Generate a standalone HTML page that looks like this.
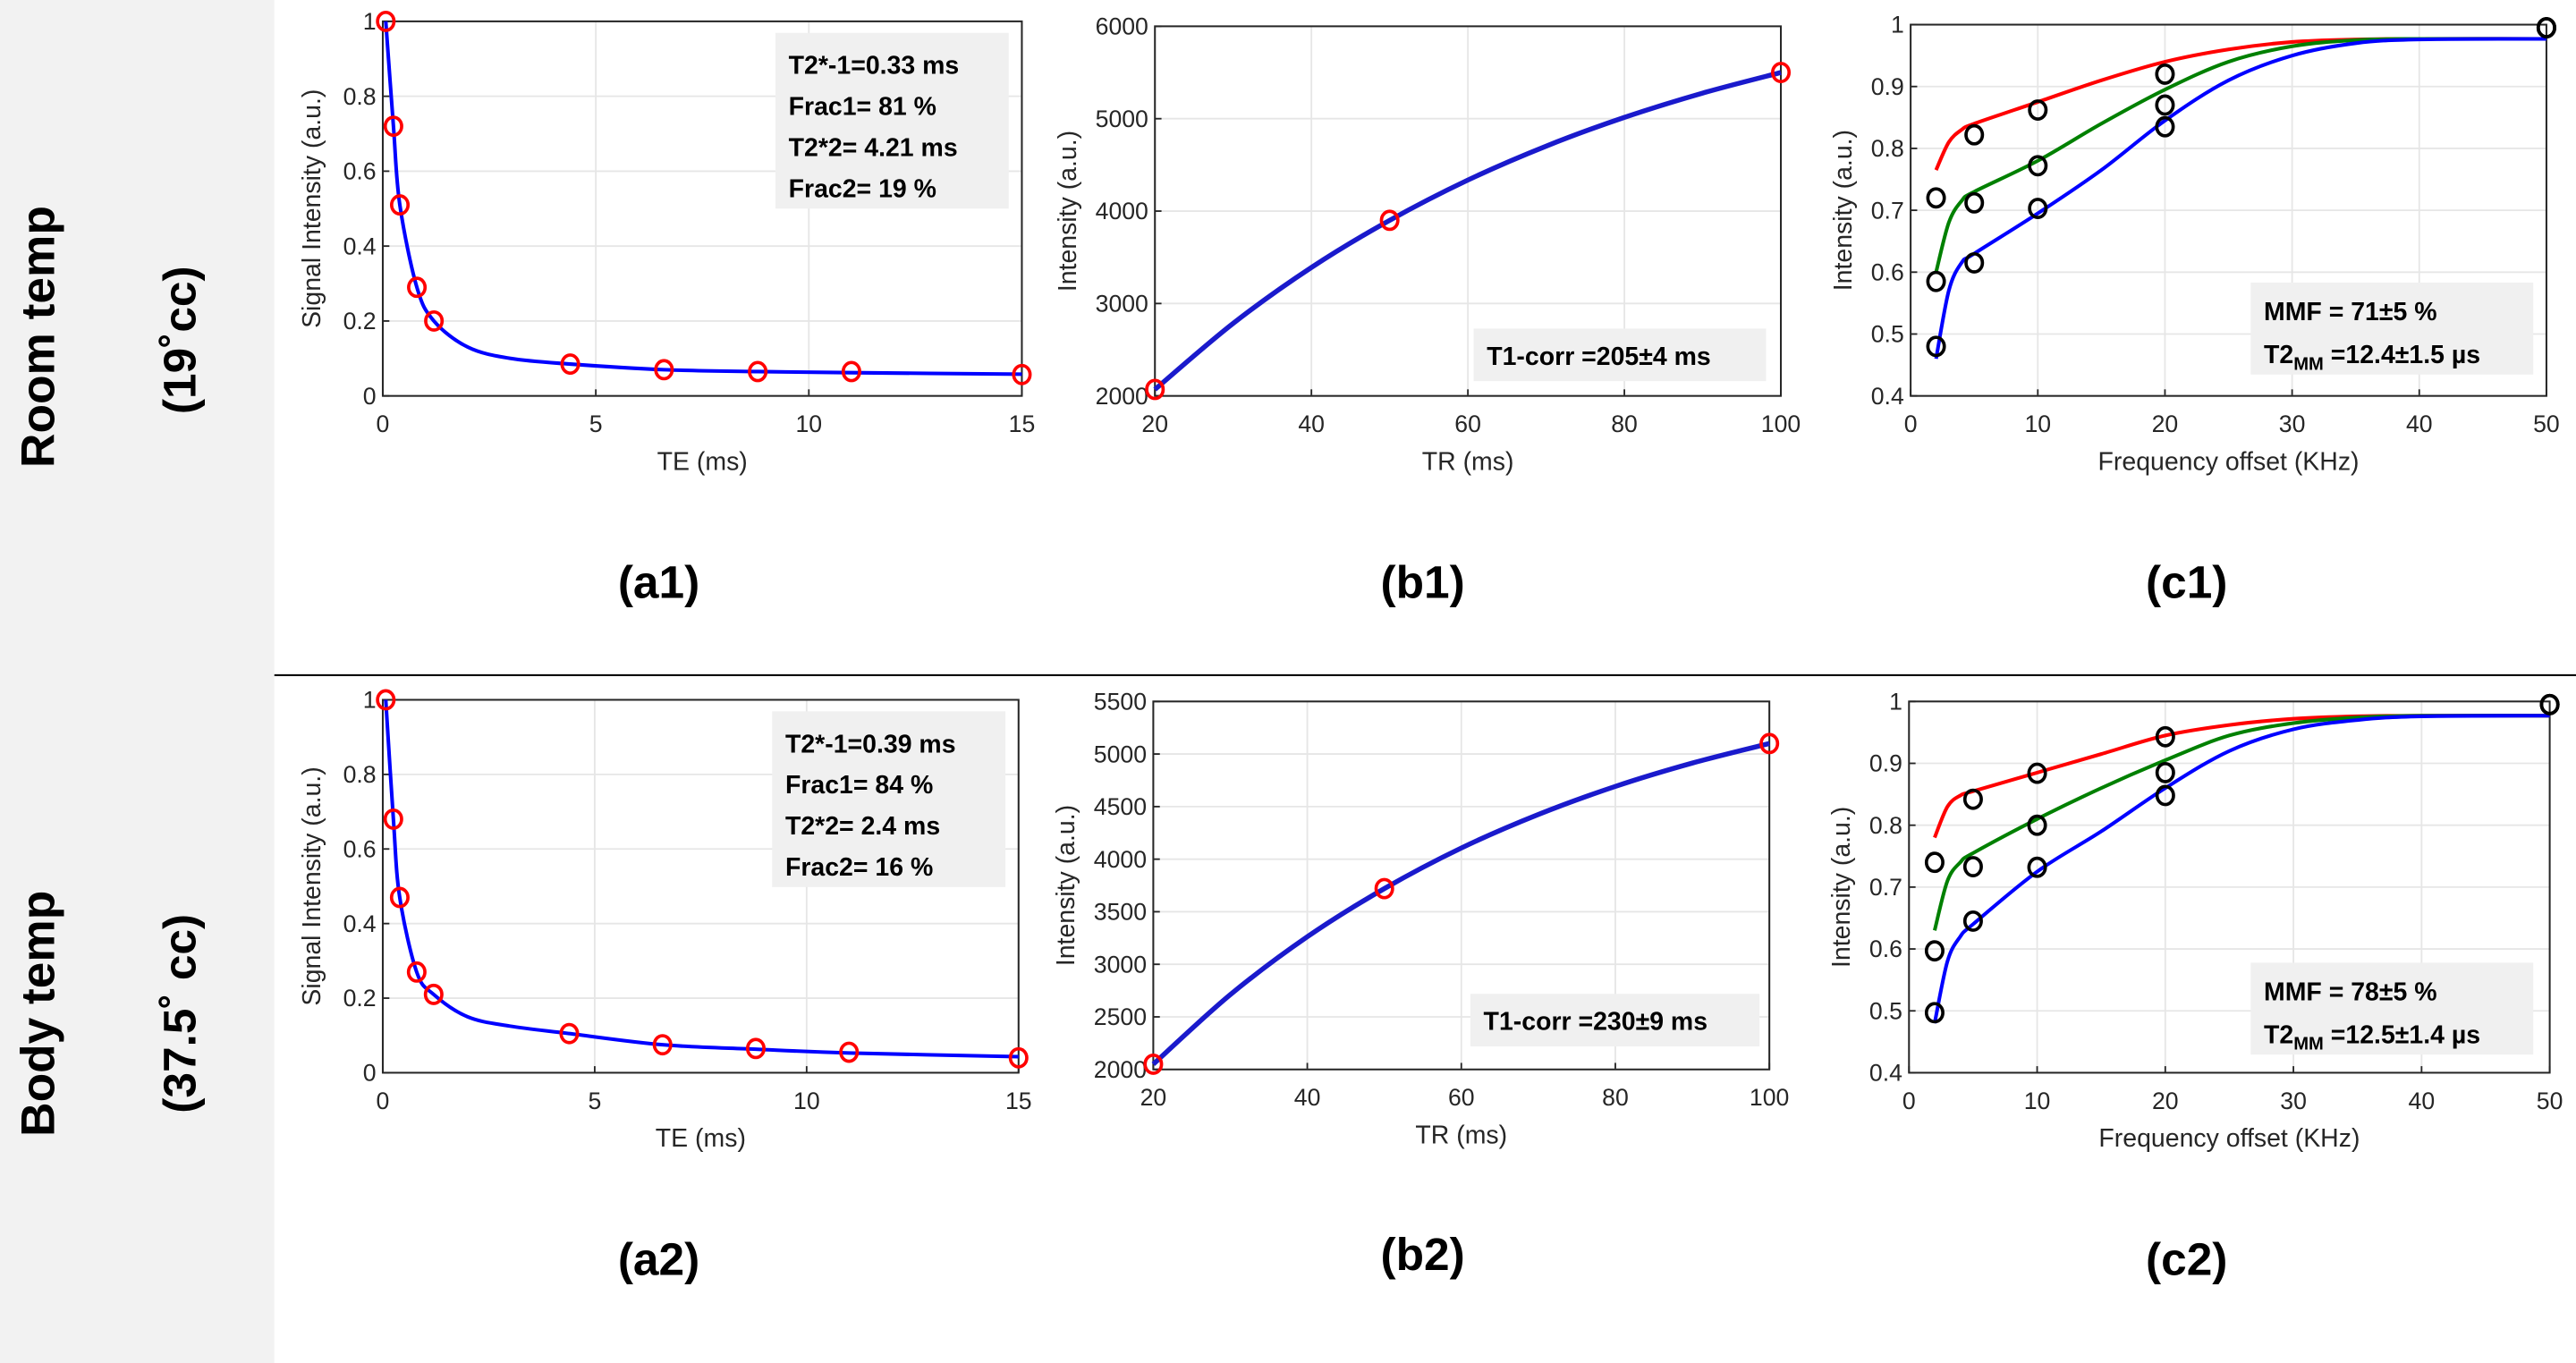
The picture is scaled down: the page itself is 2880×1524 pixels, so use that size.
<!DOCTYPE html>
<html><head><meta charset="utf-8">
<style>
html,body{margin:0;padding:0;background:#fff;}
svg{display:block;font-family:"Liberation Sans",Arial,sans-serif;}
</style></head>
<body>
<svg id="fig" width="2880" height="1524" viewBox="0 0 1568 829.7" preserveAspectRatio="none" xmlns="http://www.w3.org/2000/svg">
<rect x="0" y="0" width="167" height="830" fill="#f2f2f2"/>
<text transform="translate(33,205) rotate(-90)" text-anchor="middle" font-size="29" font-weight="bold">Room temp</text>
<text transform="translate(119,207) rotate(-90)" text-anchor="middle" font-size="28" font-weight="bold">(19˚cc)</text>
<text transform="translate(33,617) rotate(-90)" text-anchor="middle" font-size="29" font-weight="bold">Body temp</text>
<text transform="translate(119,617) rotate(-90)" text-anchor="middle" font-size="28" font-weight="bold">(37.5˚ cc)</text>
<line x1="167" y1="411" x2="1568" y2="411" stroke="#000" stroke-width="1.2"/>
</svg>
<script>
// ---- data arrays ----
const a1TE = [0.07,0.25,0.4,0.8,1.2,4.4,6.6,8.8,11,15];
const a1Sig = [1,0.72,0.51,0.29,0.2,0.085,0.07,0.065,0.065,0.057];
const a1FitX = [0.07,0.25,0.4,0.8,1.2,2,3,4.4,6.6,8.8,11,15];
const a1FitY = [1,0.72,0.51,0.29,0.2,0.13,0.1,0.085,0.07,0.065,0.062,0.058];
const a2Sig = [1,0.68,0.47,0.27,0.21,0.105,0.075,0.065,0.055,0.04];
const a2FitY = [1,0.68,0.47,0.27,0.21,0.15,0.125,0.105,0.075,0.063,0.053,0.043];
const bTR = [20,50,100];
const b1Int = [2070,3900,5500];
const b2Int = [2050,3720,5100];
const bFitX = [20,30,40,50,60,70,80,90,100];
const b1FitY = [2070,2785,3390,3900,4336,4703,5014,5277,5500];
const b2FitY = [2050,2711,3262,3720,4106,4425,4692,4914,5100];
const cFreq = [2,5,10,20,50];
const c1Red = [0.72,0.822,0.862,0.92,0.995];
const c1Green = [0.585,0.712,0.772,0.87,0.995];
const c1Blue = [0.48,0.615,0.703,0.835,0.995];
const c2Red = [0.74,0.842,0.884,0.943,0.995];
const c2Green = [0.597,0.733,0.8,0.885,0.995];
const c2Blue = [0.497,0.645,0.732,0.848,0.995];
const cFitX = [2,3,4,5,10,15,20,25,30,35,40,50];
const c1FitRed = [0.765,0.81,0.83,0.84,0.875,0.91,0.94,0.96,0.972,0.976,0.977,0.977];
const c1FitGreen = [0.6,0.68,0.715,0.73,0.78,0.84,0.895,0.94,0.965,0.975,0.977,0.977];
const c1FitBlue = [0.46,0.57,0.615,0.63,0.695,0.765,0.845,0.91,0.95,0.97,0.976,0.977];
const c2FitRed = [0.78,0.83,0.848,0.855,0.885,0.915,0.945,0.962,0.972,0.976,0.977,0.977];
const c2FitGreen = [0.63,0.71,0.74,0.755,0.81,0.86,0.905,0.945,0.965,0.974,0.977,0.977];
const c2FitBlue = [0.48,0.58,0.62,0.64,0.725,0.79,0.86,0.92,0.955,0.97,0.976,0.977];
const aXTicks = [0,5,10,15];
const aYTicks = [0,0.2,0.4,0.6,0.8,1];
const aYTickLabels = ["0","0.2","0.4","0.6","0.8","1"];
const bXTicks = [20,40,60,80,100];
const b1YTicks = [2000,3000,4000,5000,6000];
const b2YTicks = [2000,2500,3000,3500,4000,4500,5000,5500];
const cXTicks = [0,10,20,30,40,50];
const cYTicks = [0.4,0.5,0.6,0.7,0.8,0.9,1];
const cYTickLabels = ["0.4","0.5","0.6","0.7","0.8","0.9","1"];

const NS = "http://www.w3.org/2000/svg";
const svg = document.getElementById('fig');
function mk(tag, attrs, parent){
  const e = document.createElementNS(NS, tag);
  for (const k in attrs) e.setAttribute(k, attrs[k]);
  (parent||svg).appendChild(e);
  return e;
}
function smoothPath(pts){
  let d = "M" + pts[0][0] + "," + pts[0][1];
  for (let i=0;i<pts.length-1;i++){
    const p0 = pts[Math.max(0,i-1)], p1 = pts[i], p2 = pts[i+1], p3 = pts[Math.min(pts.length-1,i+2)];
    const c1x = p1[0]+(p2[0]-p0[0])/6, c1y = p1[1]+(p2[1]-p0[1])/6;
    const c2x = p2[0]-(p3[0]-p1[0])/6, c2y = p2[1]-(p3[1]-p1[1])/6;
    d += " C"+c1x+","+c1y+" "+c2x+","+c2y+" "+p2[0]+","+p2[1];
  }
  return d;
}
function panel(o){
  const g = mk('g', {});
  
  
  const sx = v => o.x0 + (v - o.xmin)/(o.xmax-o.xmin)*(o.x1-o.x0);
  const sy = v => o.y1 - (v - o.ymin)/(o.ymax-o.ymin)*(o.y1-o.y0);
  mk('rect', {x:o.x0,y:o.y0,width:o.x1-o.x0,height:o.y1-o.y0,fill:'#fff'}, g);
  o.xt.forEach((t,i)=>{
    const X = sx(t);
    const gl = mk('line',{x1:X,x2:X,y1:o.y0,y2:o.y1,stroke:'#e6e6e6','stroke-width':1},g);
    
    
    mk('line',{x1:X,x2:X,y1:o.y1,y2:o.y1-4,stroke:'#262626','stroke-width':1},g);
    const tl = mk('text',{x:X,y:o.y1+22,'text-anchor':'middle','font-size':14.5,fill:'#262626'},g);
    
    
    tl.textContent = String(t);
  });
  o.yt.forEach((t,i)=>{
    const Y = sy(t);
    const gl = mk('line',{x1:o.x0,x2:o.x1,y1:Y,y2:Y,stroke:'#e6e6e6','stroke-width':1},g);
    
    
    mk('line',{x1:o.x0,x2:o.x0+4,y1:Y,y2:Y,stroke:'#262626','stroke-width':1},g);
    const tl = mk('text',{x:o.x0-4,y:Y+5,'text-anchor':'end','font-size':14.5,fill:'#262626'},g);
    
    
    tl.textContent = o.ytl ? o.ytl[i] : String(t);
  });
  const frame = mk('rect',{x:o.x0,y:o.y0,width:o.x1-o.x0,height:o.y1-o.y0,fill:'none',stroke:'#262626','stroke-width':1.1},g);
  
  
  const xl = mk('text',{x:(o.x0+o.x1)/2,y:o.y1+45,'text-anchor':'middle','font-size':15.5,fill:'#262626'},g);
  
  
  xl.textContent = o.xlabel;
  const yl = mk('text',{transform:'translate('+(o.x0-o.ylOff)+','+((o.y0+o.y1)/2)+') rotate(-90)','text-anchor':'middle','font-size':15.5,fill:'#262626'},g);
  
  
  yl.textContent = o.ylabel;
  o.fits.forEach(f=>{
    const pts = f.x.map((v,i)=>[sx(v), sy(f.y[i])]);
    const p = mk('path',{d:smoothPath(pts),fill:'none',stroke:f.color,'stroke-width':f.w||2.2},g);
    
    
  });
  o.pts.forEach(s=>{
    s.x.forEach((v,i)=>{
      const c = mk('ellipse',{cx:sx(v),cy:sy(s.y[i]),rx:5,ry:5.5,fill:'none',stroke:s.color,'stroke-width':2},g);
      
      
    });
  });
  if (o.box){
    const b = o.box;
    const r = mk('rect',{x:b.x,y:b.y,width:b.w,height:b.h,fill:'#f0f0f0'},g);
    
    
    b.lines.forEach((ln,i)=>{
      const t = mk('text',{x:b.x+b.pad,y:b.y+b.first+i*b.step,'font-size':15.5,'font-weight':'bold',fill:'#000'},g);
      
      
      t.innerHTML = ln;
    });
  }
  const pl = mk('text',{x:o.plx,y:o.ply,'text-anchor':'middle','font-size':28,'font-weight':'bold',fill:'#000'});
  
  
  pl.textContent = '('+o.tag+')';
}
panel({name:'chart-a1',tag:'a1',x0:233,x1:622,y0:13,y1:241,xmin:0,xmax:15,ymin:0,ymax:1,xt:aXTicks,yt:aYTicks,ytl:aYTickLabels,
  xlabel:'TE (ms)',ylabel:'Signal Intensity (a.u.)',ylOff:38,plx:401,ply:364,
  fits:[{name:'fit-curve',x:a1FitX,y:a1FitY,color:'#0000ff'}],
  pts:[{name:'data-point',x:a1TE,y:a1Sig,color:'#ff0000'}],
  box:{x:472,y:20,w:142,h:107,pad:8,first:25,step:25,lines:['T2*-1=0.33 ms','Frac1= 81 %','T2*2= 4.21 ms','Frac2= 19 %']}});
panel({name:'chart-a2',tag:'a2',x0:233,x1:620,y0:426,y1:653,xmin:0,xmax:15,ymin:0,ymax:1,xt:aXTicks,yt:aYTicks,ytl:aYTickLabels,
  xlabel:'TE (ms)',ylabel:'Signal Intensity (a.u.)',ylOff:38,plx:401,ply:776,
  fits:[{name:'fit-curve',x:a1FitX,y:a2FitY,color:'#0000ff'}],
  pts:[{name:'data-point',x:a1TE,y:a2Sig,color:'#ff0000'}],
  box:{x:470,y:433,w:142,h:107,pad:8,first:25,step:25,lines:['T2*-1=0.39 ms','Frac1= 84 %','T2*2= 2.4 ms','Frac2= 16 %']}});
panel({name:'chart-b1',tag:'b1',x0:703,x1:1084,y0:16,y1:241,xmin:20,xmax:100,ymin:2000,ymax:6000,xt:bXTicks,yt:b1YTicks,
  xlabel:'TR (ms)',ylabel:'Intensity (a.u.)',ylOff:48,plx:866,ply:364,
  fits:[{name:'fit-curve',x:bFitX,y:b1FitY,color:'#1a1acc',w:3}],
  pts:[{name:'data-point',x:bTR,y:b1Int,color:'#ff0000'}],
  box:{x:897,y:200,w:178,h:32,pad:8,first:22,step:25,lines:['T1-corr =205±4 ms']}});
panel({name:'chart-b2',tag:'b2',x0:702,x1:1077,y0:427,y1:651,xmin:20,xmax:100,ymin:2000,ymax:5500,xt:bXTicks,yt:b2YTicks,
  xlabel:'TR (ms)',ylabel:'Intensity (a.u.)',ylOff:48,plx:866,ply:773,
  fits:[{name:'fit-curve',x:bFitX,y:b2FitY,color:'#1a1acc',w:3}],
  pts:[{name:'data-point',x:bTR,y:b2Int,color:'#ff0000'}],
  box:{x:895,y:605,w:176,h:32,pad:8,first:22,step:25,lines:['T1-corr =230±9 ms']}});
panel({name:'chart-c1',tag:'c1',x0:1163,x1:1550,y0:15,y1:241,xmin:0,xmax:50,ymin:0.4,ymax:1,xt:cXTicks,yt:cYTicks,ytl:cYTickLabels,
  xlabel:'Frequency offset (KHz)',ylabel:'Intensity (a.u.)',ylOff:36,plx:1331,ply:364,
  fits:[{name:'fit-curve-red',x:cFitX,y:c1FitRed,color:'#ff0000'},{name:'fit-curve-green',x:cFitX,y:c1FitGreen,color:'#008000'},{name:'fit-curve-blue',x:cFitX,y:c1FitBlue,color:'#0000ff'}],
  pts:[{name:'data-point-red-series',x:cFreq,y:c1Red,color:'#000'},{name:'data-point-green-series',x:cFreq,y:c1Green,color:'#000'},{name:'data-point-blue-series',x:cFreq,y:c1Blue,color:'#000'}],
  box:{x:1370,y:172,w:172,h:56,pad:8,first:23,step:26,lines:['MMF = 71±5 %','T2<tspan font-size="11" dy="4">MM</tspan><tspan dy="-4"> =12.4±1.5 µs</tspan>']}});
panel({name:'chart-c2',tag:'c2',x0:1162,x1:1552,y0:427,y1:653,xmin:0,xmax:50,ymin:0.4,ymax:1,xt:cXTicks,yt:cYTicks,ytl:cYTickLabels,
  xlabel:'Frequency offset (KHz)',ylabel:'Intensity (a.u.)',ylOff:36,plx:1331,ply:776,
  fits:[{name:'fit-curve-red',x:cFitX,y:c2FitRed,color:'#ff0000'},{name:'fit-curve-green',x:cFitX,y:c2FitGreen,color:'#008000'},{name:'fit-curve-blue',x:cFitX,y:c2FitBlue,color:'#0000ff'}],
  pts:[{name:'data-point-red-series',x:cFreq,y:c2Red,color:'#000'},{name:'data-point-green-series',x:cFreq,y:c2Green,color:'#000'},{name:'data-point-blue-series',x:cFreq,y:c2Blue,color:'#000'}],
  box:{x:1370,y:586,w:172,h:56,pad:8,first:23,step:26,lines:['MMF = 78±5 %','T2<tspan font-size="11" dy="4">MM</tspan><tspan dy="-4"> =12.5±1.4 µs</tspan>']}});
</script>
</body></html>
